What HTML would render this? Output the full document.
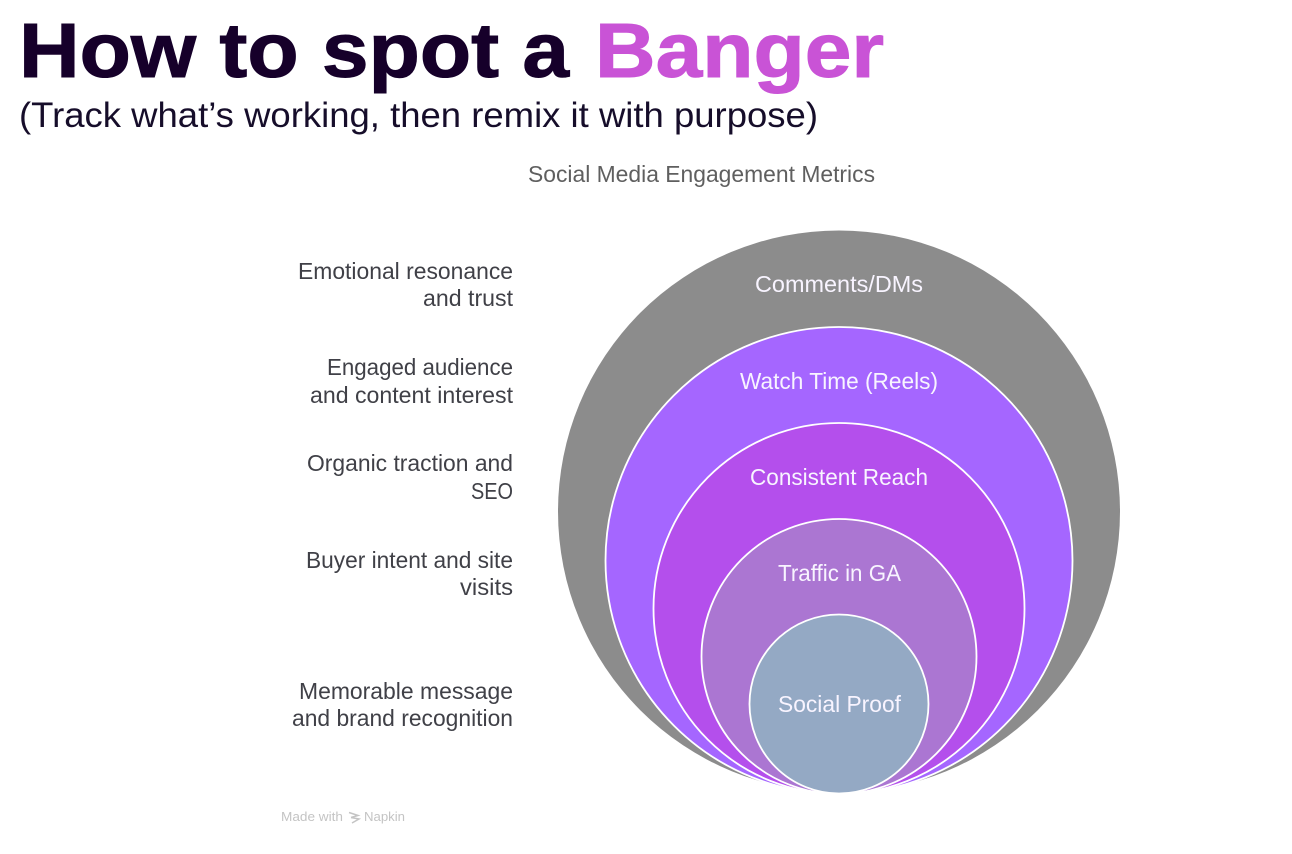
<!DOCTYPE html>
<html>
<head>
<meta charset="utf-8">
<style>
html,body{margin:0;padding:0;background:#fff;width:1292px;height:854px;overflow:hidden}
svg{display:block}
text{font-family:"Liberation Sans",sans-serif;white-space:pre}
.t{font-weight:700;font-size:77px;stroke-width:1px}
.s{font-size:35px;fill:#16102a}
.l{font-size:23px;fill:#3f4147}
.c{font-size:23px;fill:#f8f4ff}
</style>
</head>
<body>
<svg width="1292" height="854" viewBox="0 0 1292 854" xmlns="http://www.w3.org/2000/svg">
<defs><filter id="b" x="-2%" y="-2%" width="104%" height="104%"><feGaussianBlur stdDeviation="0.35"/></filter></defs>
<rect width="1292" height="854" fill="#fff"/>
<g filter="url(#b)">
<text class="t" x="19" y="77" fill="#14062b" stroke="#14062b" textLength="550" lengthAdjust="spacingAndGlyphs">How to spot a</text>
<text class="t" x="595" y="77" fill="#c953d6" stroke="#c953d6" textLength="289" lengthAdjust="spacingAndGlyphs">Banger</text>
<text class="s" x="19" y="127" textLength="799" lengthAdjust="spacingAndGlyphs">(Track what’s working, then remix it with purpose)</text>
<text x="528" y="182" font-size="23" fill="#5f5f5f" textLength="347" lengthAdjust="spacingAndGlyphs">Social Media Engagement Metrics</text>

<circle cx="839" cy="511.5" r="281" fill="#8c8c8c"/>
<circle cx="839" cy="560.5" r="233.5" fill="#a566ff" stroke="#fff" stroke-width="1.8"/>
<circle cx="839" cy="608.5" r="185.5" fill="#b450ec" stroke="#fff" stroke-width="1.8"/>
<circle cx="839" cy="656.5" r="137.5" fill="#ab76d2" stroke="#fff" stroke-width="1.8"/>
<circle cx="839" cy="704" r="89.5" fill="#94a9c4" stroke="#fff" stroke-width="1.8"/>

<text class="c" x="755" y="292" textLength="168" lengthAdjust="spacingAndGlyphs">Comments/DMs</text>
<text class="c" x="740" y="389" textLength="198" lengthAdjust="spacingAndGlyphs">Watch Time (Reels)</text>
<text class="c" x="750" y="485" textLength="178" lengthAdjust="spacingAndGlyphs">Consistent Reach</text>
<text class="c" x="778" y="581" textLength="123" lengthAdjust="spacingAndGlyphs">Traffic in GA</text>
<text class="c" x="778" y="712" textLength="123" lengthAdjust="spacingAndGlyphs">Social Proof</text>

<text class="l" x="298" y="279" textLength="215" lengthAdjust="spacingAndGlyphs">Emotional resonance</text>
<text class="l" x="423" y="306" textLength="90" lengthAdjust="spacingAndGlyphs">and trust</text>
<text class="l" x="327" y="375" textLength="186" lengthAdjust="spacingAndGlyphs">Engaged audience</text>
<text class="l" x="310" y="403" textLength="203" lengthAdjust="spacingAndGlyphs">and content interest</text>
<text class="l" x="307" y="471" textLength="206" lengthAdjust="spacingAndGlyphs">Organic traction and</text>
<text class="l" x="471" y="499" textLength="42" lengthAdjust="spacingAndGlyphs">SEO</text>
<text class="l" x="306" y="568" textLength="207" lengthAdjust="spacingAndGlyphs">Buyer intent and site</text>
<text class="l" x="460" y="595" textLength="53" lengthAdjust="spacingAndGlyphs">visits</text>
<text class="l" x="299" y="699" textLength="214" lengthAdjust="spacingAndGlyphs">Memorable message</text>
<text class="l" x="292" y="726" textLength="221" lengthAdjust="spacingAndGlyphs">and brand recognition</text>

<text x="281" y="821" font-size="13" fill="#c4c4c4" textLength="62" lengthAdjust="spacingAndGlyphs">Made with</text>
<g fill="none" stroke="#c4c4c4" stroke-width="1.5">
<path d="M349 812.5 L358 815.5 L351 817.5"/>
<path d="M351 817.5 L359 819 L352 823"/>
</g>
<text x="364" y="821" font-size="13" fill="#c4c4c4" textLength="41" lengthAdjust="spacingAndGlyphs">Napkin</text>
</g>
</svg>
</body>
</html>
